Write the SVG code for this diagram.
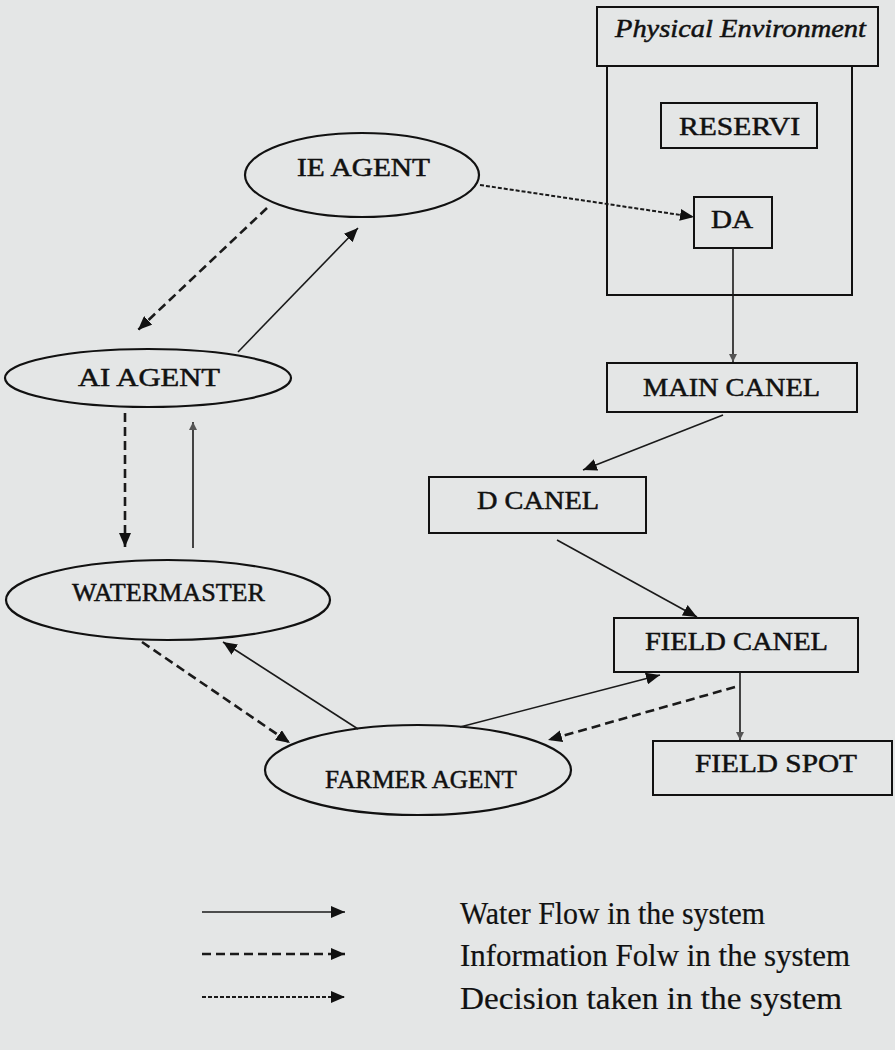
<svg xmlns="http://www.w3.org/2000/svg" width="895" height="1050" viewBox="0 0 895 1050">
<style>
.bg{fill:#e4e6e6}
.box{fill:none;stroke:#111;stroke-width:2}
.ell{fill:none;stroke:#111;stroke-width:2.2}
.lbl{font-family:"Liberation Serif","Times New Roman",serif;font-size:26px;fill:#111;stroke:#111;stroke-width:0.5}
.leg{font-family:"Liberation Serif","Times New Roman",serif;font-size:32px;fill:#111;stroke:#111;stroke-width:0.2}
.water{fill:none;stroke:#1a1a1a;stroke-width:1.6}
.info{fill:none;stroke:#1a1a1a;stroke-width:2.6;stroke-dasharray:9 5}
.dec{fill:none;stroke:#1a1a1a;stroke-width:2;stroke-dasharray:4 2}
</style>
<defs>
<marker id="ah" markerUnits="userSpaceOnUse" markerWidth="16" markerHeight="12" refX="14" refY="6" orient="auto">
<path d="M0,0 L14,6 L0,12 z" fill="#111"/>
</marker>
<marker id="ahs" markerUnits="userSpaceOnUse" markerWidth="10" markerHeight="8" refX="8" refY="4" orient="auto">
<path d="M0,0 L8,4 L0,8 z" fill="#555"/>
</marker>
</defs>
<rect class="bg" x="0" y="0" width="895" height="1050"/>

<g id="physical-environment">
<rect class="box" x="597" y="7" width="281" height="59"/>
<path class="box" d="M607,66 V295 H852 V66"/>
<text class="lbl" x="615" y="37" font-style="italic" font-size="23" textLength="251" lengthAdjust="spacingAndGlyphs">Physical Environment</text>
</g>
<g id="reservi">
<rect class="box" x="661" y="103" width="156" height="45"/>
<text class="lbl" x="679" y="135" textLength="121" lengthAdjust="spacingAndGlyphs">RESERVI</text>
</g>
<g id="da">
<rect class="box" x="694" y="197" width="78" height="51"/>
<text class="lbl" x="711" y="228" textLength="42" lengthAdjust="spacingAndGlyphs">DA</text>
</g>
<g id="ie-agent">
<ellipse class="ell" cx="362" cy="175" rx="117" ry="42"/>
<text class="lbl" x="297" y="176" textLength="133" lengthAdjust="spacingAndGlyphs">IE AGENT</text>
</g>
<g id="ai-agent">
<ellipse class="ell" cx="148" cy="378" rx="143" ry="29"/>
<text class="lbl" x="78" y="386" textLength="142" lengthAdjust="spacingAndGlyphs">AI AGENT</text>
</g>
<g id="watermaster">
<ellipse class="ell" cx="168" cy="600" rx="162" ry="40"/>
<text class="lbl" x="72" y="601" font-size="24" textLength="193" lengthAdjust="spacingAndGlyphs">WATERMASTER</text>
</g>
<g id="farmer-agent">
<ellipse class="ell" cx="418" cy="770" rx="153" ry="45"/>
<text class="lbl" x="325" y="788" font-size="24" textLength="192" lengthAdjust="spacingAndGlyphs">FARMER AGENT</text>
</g>
<g id="main-canel">
<rect class="box" x="607" y="363" width="250" height="49"/>
<text class="lbl" x="643" y="396" textLength="177" lengthAdjust="spacingAndGlyphs">MAIN CANEL</text>
</g>
<g id="d-canel">
<rect class="box" x="429" y="477" width="217" height="56"/>
<text class="lbl" x="477" y="509" textLength="122" lengthAdjust="spacingAndGlyphs">D CANEL</text>
</g>
<g id="field-canel">
<rect class="box" x="614" y="618" width="244" height="54"/>
<text class="lbl" x="645" y="650" font-size="24" textLength="183" lengthAdjust="spacingAndGlyphs">FIELD CANEL</text>
</g>
<g id="field-spot">
<rect class="box" x="653" y="741" width="239" height="54"/>
<text class="lbl" x="695" y="772" font-size="24" textLength="162" lengthAdjust="spacingAndGlyphs">FIELD SPOT</text>
</g>

<g id="connectors">
<line class="info" x1="267" y1="208" x2="138" y2="330" marker-end="url(#ah)"/>
<line class="water" x1="238" y1="352" x2="358" y2="228" marker-end="url(#ah)"/>
<line class="dec" x1="480" y1="185" x2="694" y2="217" marker-end="url(#ah)"/>
<line class="water" x1="733" y1="248" x2="733" y2="362" stroke-width="2.4" marker-end="url(#ahs)"/>
<line class="water" x1="723" y1="415" x2="583" y2="470" stroke-width="2" marker-end="url(#ah)"/>
<line class="water" x1="557" y1="540" x2="697" y2="617" stroke-width="2" marker-end="url(#ah)"/>
<line class="info" x1="125" y1="413" x2="125" y2="547" marker-end="url(#ah)"/>
<line class="water" x1="193" y1="548" x2="193" y2="422" marker-end="url(#ahs)"/>
<line class="info" x1="142" y1="642" x2="290" y2="743" marker-end="url(#ah)"/>
<line class="water" x1="358" y1="729" x2="223" y2="642" marker-end="url(#ah)"/>
<line class="water" x1="460" y1="727" x2="660" y2="675" marker-end="url(#ah)"/>
<line class="info" x1="735" y1="687" x2="548" y2="740" marker-end="url(#ah)"/>
<line class="water" x1="740" y1="672" x2="740" y2="740" stroke-width="2" marker-end="url(#ahs)"/>
</g>

<g id="legend">
<line class="water" x1="202" y1="912" x2="345" y2="912" stroke-width="2.6" marker-end="url(#ah)"/>
<line class="info" x1="202" y1="954" x2="345" y2="954" stroke-width="2.4" marker-end="url(#ah)"/>
<line class="dec" x1="202" y1="997" x2="345" y2="997" marker-end="url(#ah)"/>
<text class="leg" x="460" y="924" textLength="305" lengthAdjust="spacingAndGlyphs">Water Flow in the system</text>
<text class="leg" x="460" y="966" textLength="390" lengthAdjust="spacingAndGlyphs">Information Folw in the system</text>
<text class="leg" x="460" y="1009" textLength="382" lengthAdjust="spacingAndGlyphs">Decision taken in the system</text>
</g>
</svg>
